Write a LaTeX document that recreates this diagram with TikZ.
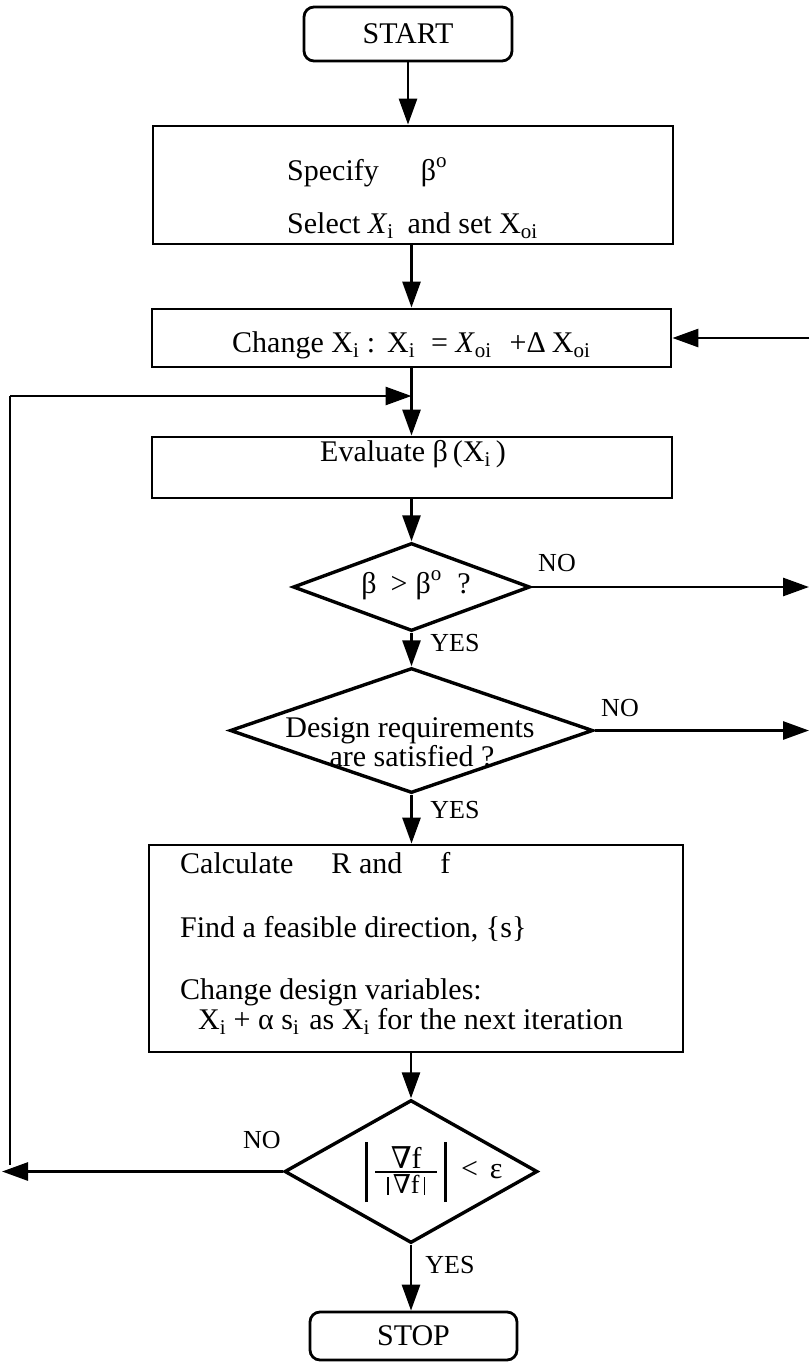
\documentclass[tikz,border=0pt]{standalone}
\usepackage{fontspec}
\setmainfont{Liberation Serif}
\newfontfamily\nablafont{DejaVu Serif}
\usetikzlibrary{arrows.meta,shapes.geometric}
\newcommand{\ssub}[1]{\textsubscript{#1}}
\newcommand{\supo}{\raisebox{13pt}{\fontsize{21}{21}\selectfont o}}
\newcommand{\fbar}{\vcenter{\hbox{\vrule width 2.6pt height 60pt}}}
\begin{document}
\begin{tikzpicture}[x=1pt,y=-1pt,
  txt/.style={font=\fontsize{30}{30}\selectfont, inner sep=0pt},
  lab/.style={font=\fontsize{26}{26}\selectfont, inner sep=0pt},
  box/.style={draw, line width=2.8pt, inner sep=0pt},
  term/.style={box, rounded corners=10pt, font=\fontsize{30}{30}\selectfont},
  dia/.style={draw, diamond, line width=3.4pt, inner sep=0pt},
  flow/.style={line width=2.8pt, -{Triangle[length=26pt,width=18pt]}},
  wire/.style={line width=2.8pt}]
\useasboundingbox (0,0) rectangle (809,1362);

% terminals
\node[term, minimum width=208pt, minimum height=54pt] (start) at (408,34) {START};
\node[term, minimum width=207pt, minimum height=48pt] (stop) at (413.5,1336) {STOP};

% process boxes
\node[box, minimum width=520pt, minimum height=118pt] (spec) at (413,185) {};
\node[txt, anchor=base west] (spec1) at (287,180) {Specify\hskip 42pt β\supo};
\node[txt, anchor=base west] (spec2) at (287,233) {Select \textit{X}\ssub{i}\hskip 14pt and set X\ssub{oi}};

\node[box, minimum width=519pt, minimum height=58pt] (chg) at (411.5,338) {};
\node[txt, anchor=base west] (chgt) at (232,352) {Change X\ssub{i} :\hskip 12pt X\ssub{i}\hskip 16pt = \textit{X}\ssub{oi}\hskip 18pt +Δ\hskip 6pt X\ssub{oi}};

\node[box, minimum width=520pt, minimum height=61pt] (evl) at (412,467.5) {};
\node[txt, anchor=base west] (evlt) at (320,461) {Evaluate β\,(X\ssub{i}\,)};

\node[box, minimum width=534pt, minimum height=207pt] (calc) at (416,948.5) {};
\node[txt, anchor=base west] (calc1) at (180,873) {Calculate\hskip 38pt R and\hskip 38pt f};
\node[txt, anchor=base west] (calc2) at (180,937) {Find a feasible direction, \{s\}};
\node[txt, anchor=base west] (calc3) at (180,999) {Change design variables:};
\node[txt, anchor=base west] (calc4) at (198,1029) {X\ssub{i} + α s\ssub{i}\hskip 10pt as X\ssub{i} for the next iteration};

% decisions
\node[dia, minimum width=237pt, minimum height=88pt] (d1) at (411.5,587) {};
\node[txt, anchor=base] (d1t) at (416,593) {β\hskip 14pt>\hskip 8pt β\supo\hskip 16pt ?};

\node[dia, minimum width=363pt, minimum height=125pt] (d2) at (411.5,730.5) {};
\node[txt, anchor=base] (d2a) at (410,737) {Design requirements};
\node[txt, anchor=base] (d2b) at (412,766) {are satisfied ?};

\node[dia, minimum width=253pt, minimum height=143pt] (d3) at (411,1171.5) {};
\node[txt] (d3t) at (434,1172) {$\fbar\hskip 6pt{\hbox to 62pt{\hfil\nablafont ∇\rmfamily f\hfil}\above 2pt\hbox to 62pt{\hfil\fontsize{26}{26}\selectfont\vrule width 1.4pt height 17pt depth 1pt\hskip 4pt{\nablafont ∇}f\hskip 4pt\vrule width 1.4pt height 17pt depth 1pt\hfil}}\hskip 6pt\fbar$\hskip 14pt<\hskip 12pt ε};

% branch labels
\node[lab] (no1) at (557,563) {NO};
\node[lab] (yes1) at (455,643) {YES};
\node[lab] (no2) at (620,708) {NO};
\node[lab] (yes2) at (455,810) {YES};
\node[lab] (no3) at (262,1140) {NO};
\node[lab] (yes3) at (450,1265) {YES};

% loose ends of the loop lines
\coordinate (rin) at (809,338);
\coordinate (rout1) at (809,587);
\coordinate (rout2) at (809,730.5);
\coordinate (lout) at (2,1171.5);
\coordinate (lbot) at (10,1165);
\coordinate (ltop) at (10,396);

% main flow
\draw[flow] (start.south) -- (start.south |- spec.north);
\draw[flow] (spec.south -| chg.south) -- (chg.north);
\draw[flow] (chg.south) -- (chg.south |- evl.north);
\draw[flow] (evl.south -| d1.north) -- (d1.north);
\draw[flow] (d1.south) -- (d2.north);
\draw[flow] (d2.south) -- (d2.south |- calc.north);
\draw[flow] (calc.south -| d3.north) -- (d3.north);
\draw[flow] (d3.south) -- (d3.south |- stop.north);

% branches
\draw[flow] (rin) -- (chg.east);
\draw[flow] (d1.east) -- (rout1);
\draw[flow] (d2.east) -- (rout2);
\draw[flow] (d3.west) -- (lout);
\draw[wire] (lbot) -- (ltop);
\draw[flow] (ltop) -- (ltop -| chg.south);
\end{tikzpicture}
\end{document}
